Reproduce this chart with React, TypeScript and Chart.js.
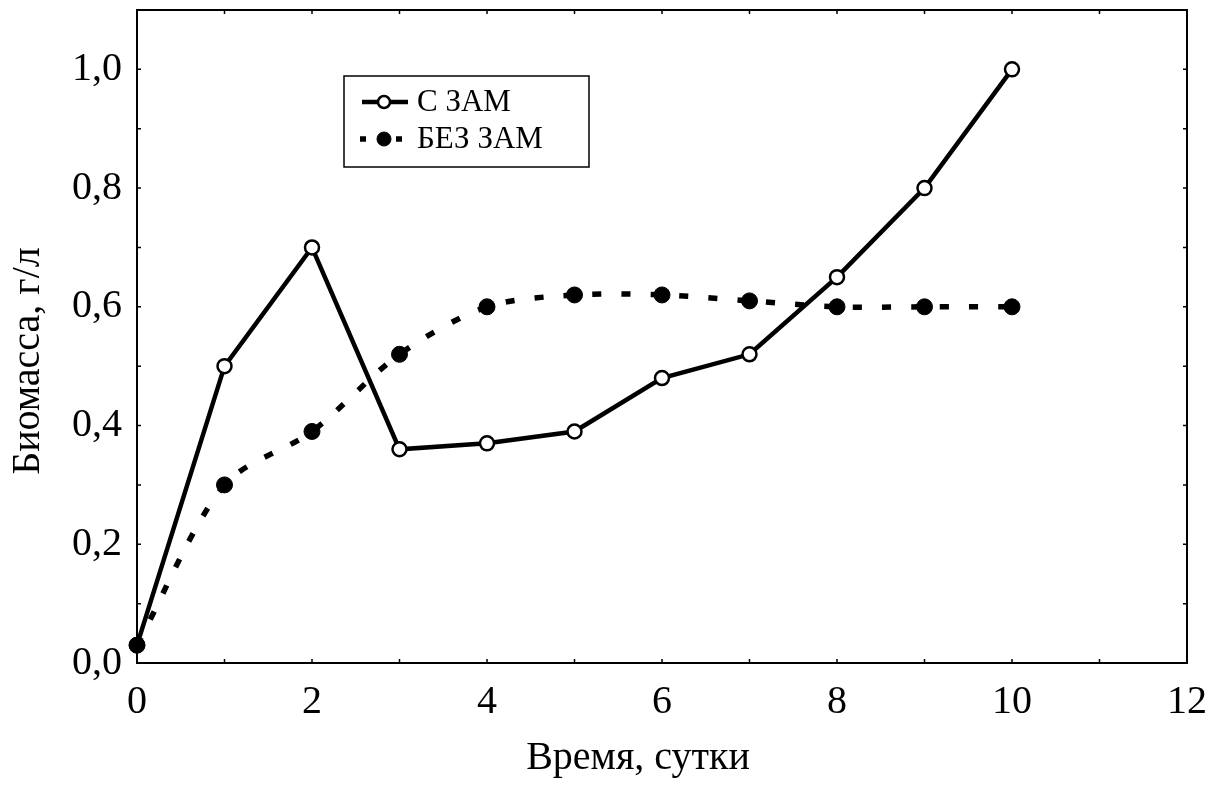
import { useEffect, useRef } from 'react';
import { Chart, registerables } from 'chart.js';

Chart.register(...registerables);

const days = [0, 1, 2, 3, 4, 5, 6, 7, 8, 9, 10];
const withZam = [0.03, 0.5, 0.7, 0.36, 0.37, 0.39, 0.48, 0.52, 0.65, 0.8, 1.0];
const withoutZam = [0.03, 0.3, 0.39, 0.52, 0.6, 0.62, 0.62, 0.61, 0.6, 0.6, 0.6];
const seriesNames = ['С ЗАМ', 'БЕЗ ЗАМ'];
const xTitle = 'Время, сутки';
const yTitle = 'Биомасса, г/л';
const xMin = 0, xMax = 12, xStep = 2, xMinorStep = 1;
const yMin = 0, yMax = 1.1, yStep = 0.2, yMinorStep = 0.1;

const FONT = '"Liberation Serif", "Times New Roman", serif';

const framePlugin = {
  id: 'frameTicks',
  afterDatasetsDraw(chart: any) {
    const { ctx, chartArea: a, scales } = chart;
    const xs = scales.x, ys = scales.y;
    ctx.save();
    ctx.strokeStyle = '#000';
    ctx.lineWidth = 2;
    ctx.strokeRect(a.left, a.top, a.right - a.left, a.bottom - a.top);
    ctx.lineWidth = 1.5;
    const len = 4;
    ctx.beginPath();
    for (let v = xMin + xMinorStep; v < xMax - 1e-9; v += xMinorStep) {
      const px = xs.getPixelForValue(v);
      ctx.moveTo(px, a.bottom); ctx.lineTo(px, a.bottom - len);
      ctx.moveTo(px, a.top); ctx.lineTo(px, a.top + len);
    }
    for (let i = 1; yMin + i * yMinorStep < yMax - 1e-9; i++) {
      const py = ys.getPixelForValue(yMin + i * yMinorStep);
      ctx.moveTo(a.left, py); ctx.lineTo(a.left + len, py);
      ctx.moveTo(a.right, py); ctx.lineTo(a.right - len, py);
    }
    ctx.stroke();
    ctx.restore();
  },
};

const titlesPlugin = {
  id: 'axisTitles',
  afterDraw(chart: any) {
    const { ctx } = chart;
    ctx.save();
    ctx.fillStyle = '#000';
    ctx.font = `40px ${FONT}`;
    ctx.textAlign = 'center';
    ctx.textBaseline = 'middle';
    ctx.fillText(xTitle, 638, 758);
    ctx.translate(28, 361);
    ctx.rotate(-Math.PI / 2);
    ctx.fillText(yTitle, 0, 0);
    ctx.restore();
  },
};

const legendPlugin = {
  id: 'insideLegend',
  afterDraw(chart: any) {
    const { ctx } = chart;
    const box = { x: 344, y: 76, w: 245, h: 91 };
    ctx.save();
    ctx.fillStyle = '#fff';
    ctx.fillRect(box.x, box.y, box.w, box.h);
    ctx.strokeStyle = '#000';
    ctx.lineWidth = 1.5;
    ctx.strokeRect(box.x, box.y, box.w, box.h);
    const rows = [box.y + 26, box.y + 63];
    chart.data.datasets.forEach((ds: any, i: number) => {
      const y = rows[i];
      ctx.beginPath();
      ctx.setLineDash(ds.borderDash ? [6, 30] : []);
      ctx.lineWidth = ds.borderWidth;
      ctx.strokeStyle = '#000';
      if (ds.borderDash) {
        ctx.moveTo(360, y);
        ctx.lineTo(406, y);
      } else {
        ctx.moveTo(362, y);
        ctx.lineTo(408, y);
      }
      ctx.stroke();
      ctx.setLineDash([]);
      ctx.beginPath();
      ctx.arc(384, y, ds.pointRadius - 1, 0, Math.PI * 2);
      ctx.fillStyle = ds.pointBackgroundColor;
      ctx.fill();
      ctx.lineWidth = ds.pointBorderWidth;
      ctx.stroke();
      ctx.fillStyle = '#000';
      ctx.font = `31px ${FONT}`;
      ctx.textBaseline = 'middle';
      ctx.textAlign = 'left';
      ctx.fillText(ds.label, 417, y + 1);
    });
    ctx.restore();
  },
};

export default function App() {
  const ref = useRef<HTMLCanvasElement>(null);
  useEffect(() => {
    if (!ref.current) return;
    const chart = new Chart(ref.current, {
      type: 'line',
      data: {
        datasets: [
          {
            label: seriesNames[0],
            data: days.map((d, i) => ({ x: d, y: withZam[i] })),
            borderColor: '#000',
            borderWidth: 4.5,
            pointRadius: 7,
            pointBorderWidth: 2.5,
            pointBackgroundColor: '#fff',
            pointBorderColor: '#000',
            tension: 0,
            clip: false,
            order: 1,
          } as any,
          {
            label: seriesNames[1],
            data: days.map((d, i) => ({ x: d, y: withoutZam[i] })),
            borderColor: '#000',
            borderWidth: 5.5,
            borderDash: [9, 20],
            pointRadius: 8,
            pointBorderWidth: 1,
            pointBackgroundColor: '#000',
            pointBorderColor: '#000',
            tension: 0.3,
            clip: false,
            order: 0,
          } as any,
        ],
      },
      options: {
        responsive: false,
        animation: false,
        layout: { padding: { top: 10, right: 29, left: 0, bottom: 0 } },
        plugins: { legend: { display: false }, tooltip: { enabled: false } },
        scales: {
          x: {
            type: 'linear',
            min: xMin,
            max: xMax,
            grid: { display: false, drawTicks: false },
            border: { display: false },
            ticks: {
              stepSize: xStep,
              color: '#000',
              padding: 15,
              font: { family: FONT, size: 40 },
              maxRotation: 0,
            },
            title: { display: false, text: xTitle },
            afterFit(scale: any) {
              scale.height = 123;
              scale.paddingLeft = 0;
              scale.paddingRight = 0;
            },
          },
          y: {
            type: 'linear',
            min: yMin,
            max: yMax,
            grid: { display: false, drawTicks: false },
            border: { display: false },
            ticks: {
              stepSize: yStep,
              includeBounds: false,
              color: '#000',
              padding: 15,
              font: { family: FONT, size: 40 },
              callback: (v: any) => Number(v).toFixed(1).replace('.', ','),
            },
            title: { display: false, text: yTitle },
            afterFit(scale: any) {
              scale.width = 137;
              scale.paddingTop = 0;
              scale.paddingBottom = 0;
            },
          },
        },
      },
      plugins: [framePlugin, titlesPlugin, legendPlugin],
    });
    return () => chart.destroy();
  }, []);
  return (
    <div style={{ position: 'absolute', left: 0, top: 0, width: 1216, height: 786, background: '#fff' }}>
      <canvas ref={ref} width={1216} height={786} />
    </div>
  );
}
